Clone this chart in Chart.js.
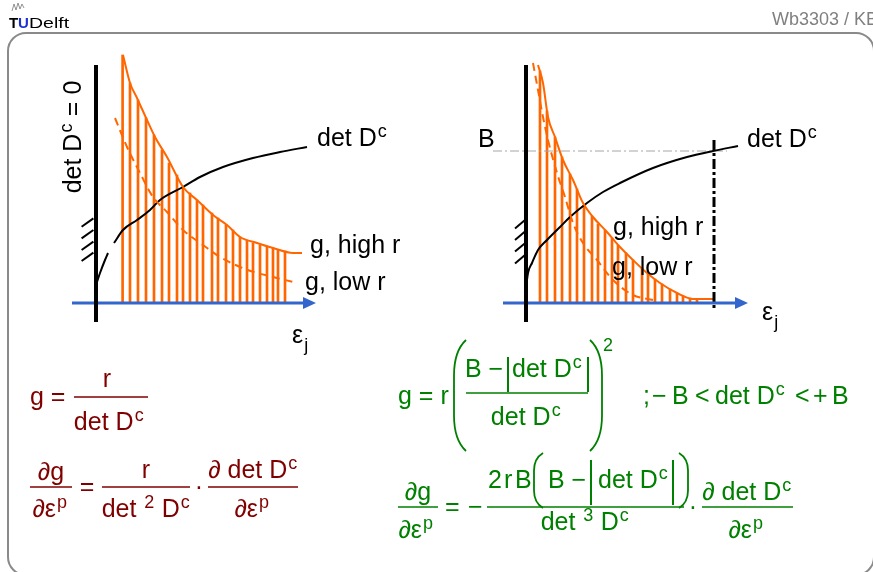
<!DOCTYPE html>
<html>
<head>
<meta charset="utf-8">
<title>Wb3303 / KB</title>
<script src="https://cdn.jsdelivr.net/npm/chart.js@4.4.1/dist/chart.umd.min.js"></script>
<style>
  html, body { margin: 0; padding: 0; background: #fff; overflow: hidden; }
  #wrap { position: relative; width: 873px; height: 572px; }
</style>
</head>
<body>
<div id="wrap"><canvas id="slide"></canvas></div>
<script>
// left sketch: no cap on det D^c
const hiLX = [1.35, 1.7, 2.05, 2.55, 2.95, 3.55, 4.35, 5.05, 5.85, 6.55, 7.2, 8.05, 8.85, 9.85, 10.3];
const hiLY = [12.4, 11.0, 10.25, 9.15, 8.3, 7.3, 5.8, 5.15, 4.4, 3.9, 3.3, 3.0, 2.75, 2.5, 2.5];
const loLX = [0.95, 1.55, 2.2, 2.85, 3.55, 4.35, 5.35, 6.2, 7.2, 8.05, 8.85, 10.05];
const loLY = [9.25, 7.8, 6.5, 5.3, 4.55, 3.65, 2.9, 2.3, 1.8, 1.5, 1.3, 1.0];
const detLX = [0, 0.2, 0.45, 0.6, 0.75, 0.9, 1.35, 2.05, 2.7, 3.2, 4.35, 5.2, 6.35, 7.85, 9.2, 10.55];
const detLY = [0.9, 1.5, 2.15, 2.5, null, 3.0, 3.65, 4.15, 4.65, 5.15, 5.8, 6.3, 6.8, 7.25, 7.55, 7.8];
const hatchLX = [1.33, 1.7, 2.1, 2.5, 2.9, 3.3, 3.65, 4.05, 4.35, 4.7, 5.05, 5.35, 5.8, 6.1, 6.5, 6.85, 7.2, 7.55, 7.85, 8.2, 8.55, 8.85, 9.1, 9.45];
const hatchLTop = [12.4, 11.0, 10.15, 9.25, 8.4, 7.65, 7.0, 6.4, 5.8, 5.5, 5.15, 4.9, 4.5, 4.25, 3.9, 3.65, 3.3, 3.15, 3.0, 2.9, 2.8, 2.75, 2.65, 2.6];
const wallL = [4.23, 3.65, 3.07, 2.52];

// right sketch: det D^c bounded by B
const hiRX = [0.6, 0.85, 1.1, 1.45, 1.85, 2.35, 2.85, 3.35, 4.05, 4.7, 5.35, 6.05, 6.7, 7.55, 8.35, 9.35];
const hiRY = [11.9, 11.0, 9.3, 8.3, 7.15, 6.15, 5.0, 4.3, 3.55, 2.8, 2.15, 1.5, 1.0, 0.5, 0.2, 0.2];
const loRX = [0.35, 0.6, 0.85, 1.1, 1.55, 1.95, 2.35, 2.85, 3.55, 4.35, 5.35, 6.35];
const loRY = [12.0, 10.65, 9.3, 8.15, 6.5, 5.3, 4.0, 3.0, 2.15, 1.15, 0.4, 0.15];
const detRX = [0, 0.1, 0.3, 0.6, 1.05, 1.7, 2.2, 3.05, 3.85, 4.7, 6.35, 8.05, 9.35, 10.6];
const detRY = [0.75, 1.5, 2.0, 2.65, 3.15, 3.8, 4.3, 5.0, 5.55, 6.0, 6.75, 7.3, 7.6, 7.85];
const hatchRX = [0.7, 1.05, 1.45, 1.8, 2.2, 2.55, 2.9, 3.3, 3.6, 3.95, 4.3, 4.6, 5.0, 5.35, 5.8, 6.1, 6.45, 6.8, 7.2, 7.55, 7.85, 8.2, 8.55];
const hatchRTop = [11.6, 9.6, 8.3, 7.3, 6.45, 5.7, 4.9, 4.35, 3.95, 3.65, 3.25, 2.9, 2.5, 2.15, 1.75, 1.45, 1.2, 0.95, 0.7, 0.5, 0.35, 0.25, 0.2];
const wallR = [4.15, 3.57, 2.99, 2.4];
const B_LEVEL = 7.6;
const B_LINE_X = [-1.65, 10.05];
const LIMIT_X = 9.4;
const LIMIT_Y = [8.15, -0.35];

const ORANGE = '#ff6600';
const BLUE = '#3366cc';
const RED = '#800000';
const GREEN = '#008000';
const FONT = '"Liberation Sans", Arial, sans-serif';

function pts(xs, ys) {
    return xs.map(function (x, i) { return { x: x, y: ys[i] }; });
}

function curve(data, axis, dash) {
    return {
        type: 'line', data: data, xAxisID: axis, yAxisID: 'y',
        borderColor: ORANGE, borderWidth: 2, borderDash: dash || [],
        pointRadius: 0, cubicInterpolationMode: 'monotone', spanGaps: false, order: 1
    };
}

function detCurve(data, axis) {
    const ds = curve(data, axis);
    ds.borderColor = '#000';
    return ds;
}

function hatch(data, axis) {
    return {
        type: 'bar', data: data, xAxisID: axis, yAxisID: 'y',
        backgroundColor: ORANGE, borderWidth: 0, barThickness: 2,
        grouped: false, order: 3
    };
}

// text with ^x superscripts and _x subscripts
function rich(ctx, str, x, y, size, align) {
    const runs = [];
    for (let i = 0; i < str.length; i++) {
        const ch = str[i];
        if ((ch === '^' || ch === '_') && i + 1 < str.length) {
            runs.push({ t: str[i + 1], k: ch });
            i++;
        } else if (runs.length && runs[runs.length - 1].k === '') {
            runs[runs.length - 1].t += ch;
        } else {
            runs.push({ t: ch, k: '' });
        }
    }
    const small = Math.round(size * 0.72);
    let total = 0;
    runs.forEach(function (r) {
        ctx.font = (r.k ? small : size) + 'px ' + FONT;
        r.w = ctx.measureText(r.t).width + (r.k ? 1.5 : 0);
        total += r.w;
    });
    let cx = align === 'center' ? x - total / 2 : (align === 'right' ? x - total : x);
    ctx.textAlign = 'left';
    ctx.textBaseline = 'alphabetic';
    runs.forEach(function (r) {
        ctx.font = (r.k ? small : size) + 'px ' + FONT;
        const dy = r.k === '^' ? -size * 0.37 : (r.k === '_' ? size * 0.3 : 0);
        ctx.fillText(r.t, cx + (r.k ? 1 : 0), y + dy);
        cx += r.w;
    });
}

function line(ctx, x0, y0, x1, y1, w) {
    ctx.lineWidth = w;
    ctx.beginPath();
    ctx.moveTo(x0, y0);
    ctx.lineTo(x1, y1);
    ctx.stroke();
}

// dir 1 draws "(", dir -1 draws ")"
function paren(ctx, x, top, bottom, w, dir) {
    const h = bottom - top;
    const ix = x - w * dir;
    ctx.lineWidth = 1.8;
    ctx.beginPath();
    ctx.moveTo(x, top);
    ctx.quadraticCurveTo(ix, top + h * 0.1, ix, top + h * 0.32);
    ctx.lineTo(ix, bottom - h * 0.32);
    ctx.quadraticCurveTo(ix, bottom - h * 0.1, x, bottom);
    ctx.stroke();
}

function drawAxes(ctx, xs, ys, arrowFrom, arrowTo, ticks, tickX0, tickX1) {
    const ox = xs.getPixelForValue(0);
    const oy = ys.getPixelForValue(0);
    const x0 = xs.getPixelForValue(arrowFrom);
    const x1 = xs.getPixelForValue(arrowTo);
    ctx.strokeStyle = BLUE;
    ctx.fillStyle = BLUE;
    line(ctx, x0, oy, x1 - 10, oy, 3);
    ctx.beginPath();
    ctx.moveTo(x1, oy);
    ctx.lineTo(x1 - 13, oy - 6);
    ctx.lineTo(x1 - 13, oy + 6);
    ctx.closePath();
    ctx.fill();

    ctx.strokeStyle = '#000';
    line(ctx, ox, ys.getPixelForValue(11.9), ox, ys.getPixelForValue(-0.95), 4);
    ticks.forEach(function (t) {
        line(ctx, xs.getPixelForValue(tickX0), ys.getPixelForValue(t - 0.42),
            xs.getPixelForValue(tickX1), ys.getPixelForValue(t), 2);
    });
}

const slideDecor = {
    id: 'slideDecor',
    afterDatasetsDraw: function (chart) {
        const ctx = chart.ctx;
        const s = chart.scales;
        ctx.save();
        drawAxes(ctx, s.xL, s.y, -1.2, 11.0, wallL, -0.72, -0.13);
        drawAxes(ctx, s.xR, s.y, -1.15, 11.1, wallR, -0.55, -0.05);
        ctx.restore();
    },
    afterDraw: function (chart) {
        const ctx = chart.ctx;
        ctx.save();

        // slide frame
        ctx.strokeStyle = '#8a8a8a';
        ctx.lineWidth = 2;
        ctx.beginPath();
        ctx.roundRect(8, 33, 866, 542, 18);
        ctx.stroke();

        // header
        ctx.strokeStyle = '#777';
        ctx.lineWidth = 0.8;
        ctx.beginPath();
        ctx.moveTo(12, 11); ctx.lineTo(14, 4); ctx.lineTo(16, 10); ctx.lineTo(18, 3);
        ctx.lineTo(20, 9); ctx.lineTo(22, 4); ctx.lineTo(24, 8);
        ctx.stroke();
        ctx.textAlign = 'left';
        ctx.textBaseline = 'alphabetic';
        ctx.font = 'bold 15px ' + FONT;
        ctx.fillStyle = '#000';
        ctx.fillText('T', 9, 28);
        ctx.fillStyle = '#1f2fd6';
        ctx.fillText('U', 18, 28);
        ctx.fillStyle = '#000';
        ctx.font = '15px ' + FONT;
        ctx.save();
        ctx.translate(29, 28);
        ctx.scale(1.3, 1);
        ctx.fillText('Delft', 0, 0);
        ctx.restore();
        ctx.fillStyle = '#808080';
        ctx.font = '18px ' + FONT;
        ctx.fillText('Wb3303 / KB', 772, 25);

        // sketch labels
        ctx.fillStyle = '#000';
        ctx.save();
        ctx.translate(81, 137);
        ctx.rotate(-Math.PI / 2);
        rich(ctx, 'det D^c = 0', 0, 0, 25, 'center');
        ctx.restore();
        rich(ctx, 'det D^c', 317, 146, 25);
        rich(ctx, 'g, high r', 310, 253, 25);
        rich(ctx, 'g, low r', 305, 290, 25);
        rich(ctx, 'ε_j', 292, 343, 25);
        rich(ctx, 'B', 478, 147, 25);
        rich(ctx, 'det D^c', 747, 147, 25);
        rich(ctx, 'g, high r', 613, 235, 25);
        rich(ctx, 'g, low r', 612, 275, 25);
        rich(ctx, 'ε_j', 762, 320, 25);

        // g = r / det D^c and its derivative
        ctx.fillStyle = RED;
        ctx.strokeStyle = RED;
        rich(ctx, 'g =', 30, 405, 25);
        line(ctx, 74, 397, 148, 397, 1.5);
        rich(ctx, 'r', 107, 387, 25, 'center');
        rich(ctx, 'det D^c', 109, 430, 25, 'center');
        rich(ctx, '∂g', 51, 480, 25, 'center');
        line(ctx, 30, 487, 72, 487, 1.5);
        rich(ctx, '∂ε^p', 50, 517, 25, 'center');
        rich(ctx, '=', 87, 495, 25, 'center');
        rich(ctx, 'r', 146, 478, 25, 'center');
        line(ctx, 102, 487, 190, 487, 1.5);
        rich(ctx, 'det ^2 D^c', 146, 517, 25, 'center');
        rich(ctx, '·', 199, 495, 25, 'center');
        rich(ctx, '∂ det D^c', 253, 478, 25, 'center');
        line(ctx, 208, 487, 298, 487, 1.5);
        rich(ctx, '∂ε^p', 252, 517, 25, 'center');

        // capped g and its derivative
        ctx.fillStyle = GREEN;
        ctx.strokeStyle = GREEN;
        rich(ctx, 'g = r', 398, 404, 25);
        paren(ctx, 466, 340, 451, 12, 1);
        paren(ctx, 590, 340, 451, 12, -1);
        rich(ctx, 'B −', 465, 377, 25);
        line(ctx, 508, 357, 508, 392, 2);
        rich(ctx, 'det D^c', 512, 377, 25);
        line(ctx, 588, 357, 588, 392, 2);
        line(ctx, 466, 393, 588, 393, 1.5);
        rich(ctx, 'det D^c', 526, 425, 25, 'center');
        rich(ctx, '2', 603, 351, 18);
        rich(ctx, ';', 643, 404, 25);
        rich(ctx, '−', 652, 404, 25);
        rich(ctx, 'B', 672, 404, 25);
        rich(ctx, '<', 695, 404, 25);
        rich(ctx, 'det D^c', 715, 404, 25);
        rich(ctx, '<', 795, 404, 25);
        rich(ctx, '+', 813, 404, 25);
        rich(ctx, 'B', 832, 404, 25);

        rich(ctx, '∂g', 418, 500, 25, 'center');
        line(ctx, 398, 507, 438, 507, 1.5);
        rich(ctx, '∂ε^p', 416, 538, 25, 'center');
        rich(ctx, '=', 445, 515, 25);
        rich(ctx, '−', 468, 515, 25);
        rich(ctx, '2', 488, 488, 25);
        rich(ctx, 'r', 504, 488, 25);
        rich(ctx, 'B', 515, 488, 25);
        paren(ctx, 543, 453, 508, 9, 1);
        rich(ctx, 'B −', 548, 488, 25);
        line(ctx, 591, 460, 591, 505, 2);
        rich(ctx, 'det D^c', 598, 488, 25);
        line(ctx, 673, 460, 673, 505, 2);
        paren(ctx, 679, 453, 508, 9, -1);
        line(ctx, 487, 507, 684, 507, 1.5);
        rich(ctx, 'det ^3 D^c', 585, 530, 25, 'center');
        rich(ctx, '·', 693, 515, 25, 'center');
        rich(ctx, '∂ det D^c', 747, 500, 25, 'center');
        line(ctx, 702, 507, 793, 507, 1.5);
        rich(ctx, '∂ε^p', 746, 538, 25, 'center');

        ctx.restore();
    }
};

window.onload = function () {
    const ctx = document.getElementById('slide').getContext('2d');
    new Chart(ctx, {
        type: 'line',
        data: {
            datasets: [
                hatch(pts(hatchLX, hatchLTop), 'xL'),
                curve(pts(hiLX, hiLY), 'xL'),
                curve(pts(loLX, loLY), 'xL', [8, 5]),
                detCurve(pts(detLX, detLY), 'xL'),
                hatch(pts(hatchRX, hatchRTop), 'xR'),
                curve(pts(hiRX, hiRY), 'xR'),
                curve(pts(loRX, loRY), 'xR', [8, 5]),
                detCurve(pts(detRX, detRY), 'xR'),
                {
                    type: 'line', xAxisID: 'xR', yAxisID: 'y',
                    data: [{ x: B_LINE_X[0], y: B_LEVEL }, { x: B_LINE_X[1], y: B_LEVEL }],
                    borderColor: '#a6a6a6', borderWidth: 1, borderDash: [9, 3, 2, 3],
                    pointRadius: 0, order: 2
                },
                {
                    type: 'line', xAxisID: 'xR', yAxisID: 'y',
                    data: [{ x: LIMIT_X, y: LIMIT_Y[0] }, { x: LIMIT_X, y: LIMIT_Y[1] }],
                    borderColor: '#000', borderWidth: 3, borderDash: [10, 3, 3, 3],
                    pointRadius: 0, order: 0
                }
            ]
        },
        options: {
            responsive: true,
            maintainAspectRatio: false,
            animation: false,
            layout: { padding: 0 },
            scales: {
                xL: { type: 'linear', axis: 'x', display: false, offset: false, min: -4.8, max: 38.85 },
                xR: { type: 'linear', axis: 'x', display: false, offset: false, min: -26.3, max: 17.35 },
                y: { type: 'linear', display: false, min: -13.45, max: 15.15 }
            },
            plugins: {
                legend: { display: false },
                tooltip: { enabled: false }
            }
        },
        plugins: [slideDecor]
    });
};
</script>
</body>
</html>
